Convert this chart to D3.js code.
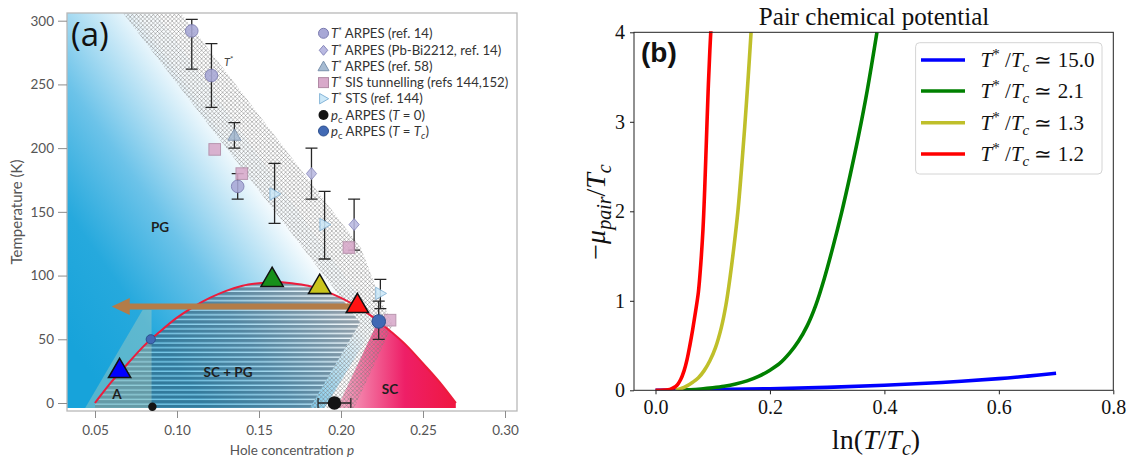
<!DOCTYPE html>
<html><head><meta charset="utf-8">
<script src="https://cdn.jsdelivr.net/npm/d3@7"></script>
<style>body{margin:0;background:#fff}svg{display:block}</style>
</head><body>
<svg id="c" width="1127" height="458"></svg>
<script>
// ================= Panel (a) data =================
const xTicksA = [0.05, 0.10, 0.15, 0.20, 0.25, 0.30];
const yTicksA = [0, 50, 100, 150, 200, 250, 300];
// [p, T, Tlow, Thigh]
const arpesCircles = [[0.109, 292, 262, 301], [0.121, 257, 232, 282], [0.137, 170, 160, 180]];
const pbDiamonds   = [[0.182, 180, 160, 200], [0.208, 140, 120, 160]];
const arpes58Tri   = [[0.135, 210, 200, 220]];
const sisSquares   = [[0.123, 199], [0.1395, 180], [0.2048, 122], [0.2299, 65]];
const stsTri       = [[0.1595, 164, 141, 188], [0.190, 140, 113, 166], [0.224, 86, 74, 97]];
const pcT0         = [[0.085, -3], [0.196, 0]];
const pcT0Err      = [null, [0.186, 0.206]];
const pcTc         = [[0.084, 50], [0.223, 64]];
const pcTcErr      = [null, [50, 80]];
// coloured markers added on the dome
const markP = [0.065, 0.158, 0.187, 0.210];
const markT = [25, 96.5, 91, 76];
const markColors = ["#0000ff", "#17901a", "#c9c41c", "#ff1212"];
// Tc dome
const domeP = [0.05,0.06,0.07,0.08,0.09,0.10,0.11,0.12,0.13,0.14,0.15,0.16,0.17,0.18,0.19,0.20,0.21,0.22,0.23,0.24,0.25,0.26,0.27];
const domeT = [0,16.5,31,45,56.5,67,75.5,82.5,88,92,94,95,94,92,88,82.5,75.5,67,56.5,45,31,16.5,0];
// T* crossover band outline
const bandP = [0.0665, 0.2116, 0.181, 0.208, 0.2317, 0.2245, 0.2122, 0.1018];
const bandT = [307, 63, -4, -4, 62, 80, 121.6, 307];
// SC region left boundary
const scP = [0.1976, 0.2225, 0.24, 0.31, 0.31];
const scT = [-4, 64, 110, 110, -4];
// "A" region
const aP = [0.044, 0.0845, 0.0845, 0.079];
const aT = [-4, -4, 73, 73];
// arrow
const arrowP = [0.2073, 0.0602];
const arrowT = 75.7;
const legendA = [
  ["circle", "T*", " ARPES (ref. 14)"],
  ["diamond", "T*", " ARPES (Pb-Bi2212, ref. 14)"],
  ["triangle", "T*", " ARPES (ref. 58)"],
  ["square", "T*", " SIS tunnelling (refs 144,152)"],
  ["right", "T*", " STS (ref. 144)"],
  ["black", "pc", " ARPES (T = 0)"],
  ["blue", "pc", " ARPES (T = Tc)"]
];

// ================= Panel (b) data =================
const xTicksB = [0.0, 0.2, 0.4, 0.6, 0.8];
const yTicksB = [0, 1, 2, 3, 4];
const blueX  = [0, 0.1, 0.2, 0.3, 0.4, 0.5, 0.6, 0.65, 0.7];
const blueY  = [0, 0.008, 0.018, 0.033, 0.056, 0.088, 0.13, 0.158, 0.19];
const greenX = [0.04, 0.06, 0.08, 0.10, 0.12, 0.14, 0.16, 0.18, 0.20, 0.217, 0.235, 0.25, 0.265, 0.28, 0.295, 0.31, 0.325, 0.34, 0.355, 0.37, 0.387];
const greenY = [0, 0.006, 0.015, 0.028, 0.045, 0.07, 0.105, 0.155, 0.225, 0.3, 0.42, 0.55, 0.72, 0.95, 1.25, 1.6, 1.98, 2.4, 2.85, 3.35, 4];
const yellowX = [0.035, 0.045, 0.055, 0.065, 0.075, 0.085, 0.095, 0.105, 0.115, 0.123, 0.13, 0.137, 0.144, 0.15, 0.156, 0.162, 0.167];
const yellowY = [0, 0.02, 0.05, 0.09, 0.14, 0.22, 0.33, 0.48, 0.7, 0.95, 1.25, 1.6, 2.0, 2.45, 2.95, 3.5, 4];
const redX = [0, 0.015, 0.025, 0.032, 0.038, 0.044, 0.05, 0.055, 0.06, 0.065, 0.07, 0.075, 0.079, 0.083, 0.086, 0.089, 0.092, 0.095, 0.097];
const redY = [0, 0.003, 0.01, 0.03, 0.06, 0.12, 0.22, 0.34, 0.5, 0.68, 0.88, 1.1, 1.4, 1.8, 2.25, 2.8, 3.35, 3.8, 4.05];
const seriesB = [
  {x: blueX, y: blueY, color: "#0000ff", label: "15.0"},
  {x: greenX, y: greenY, color: "#008000", label: "2.1"},
  {x: yellowX, y: yellowY, color: "#bfbf2a", label: "1.3"},
  {x: redX, y: redY, color: "#ff0000", label: "1.2"}
];

// ================= drawing =================
const svg = d3.select("#c");
const defs = svg.append("defs");
const zip = (a, b) => a.map((v, i) => [v, b[i]]);

const xA = d3.scaleLinear().domain([0.05, 0.30]).range([95, 505]);
const yA = d3.scaleLinear().domain([0, 300]).range([403, 20.7]);
const A = {l: 67, r: 517, t: 13, b: 411};
const sans = "Lato, 'Open Sans', sans-serif";

defs.append("clipPath").attr("id", "clipA").append("rect")
  .attr("x", A.l).attr("y", A.t).attr("width", A.r - A.l).attr("height", A.b - A.t);

const g1 = defs.append("linearGradient").attr("id", "pgGrad").attr("gradientUnits", "userSpaceOnUse")
  .attr("x1", 60).attr("y1", 330).attr("x2", 262).attr("y2", 188);
[[0, "#17a3da"], [0.3, "#26a9dd"], [0.6, "#6cc3e9"], [0.85, "#c3e6f6"], [1, "#f8fcfe"]]
  .forEach(s => g1.append("stop").attr("offset", s[0]).attr("stop-color", s[1]));

const g2 = defs.append("linearGradient").attr("id", "scGrad").attr("gradientUnits", "userSpaceOnUse")
  .attr("x1", 335).attr("y1", 0).attr("x2", 462).attr("y2", 0);
[[0, "#f6b6cd"], [0.25, "#f26f9e"], [0.55, "#ee1f67"], [1, "#f0163c"]]
  .forEach(s => g2.append("stop").attr("offset", s[0]).attr("stop-color", s[1]));

const sp = defs.append("pattern").attr("id", "stripes").attr("patternUnits", "userSpaceOnUse")
  .attr("width", 20).attr("height", 4.7).attr("y", 0.6);
sp.append("rect").attr("width", 20).attr("height", 3.4).attr("fill", "#3f5668").attr("fill-opacity", 0.55);
sp.append("rect").attr("y", 3.4).attr("width", 20).attr("height", 1.3).attr("fill", "#ffffff").attr("fill-opacity", 0.4);

const hp = defs.append("pattern").attr("id", "hatch").attr("patternUnits", "userSpaceOnUse")
  .attr("width", 4.2).attr("height", 4.2);
hp.append("path").attr("d", "M0,0L4.2,4.2M-1,3.2L1,5.2M3.2,-1L5.2,1M4.2,0L0,4.2M-1,1L1,-1M3.2,5.2L5.2,3.2")
  .attr("stroke", "#7c7c7c").attr("stroke-width", 0.5).attr("fill", "none");

const domeLine = d3.line().x(d => xA(d[0])).y(d => yA(d[1])).curve(d3.curveMonotoneX);
const domeArea = d3.area().x(d => xA(d[0])).y0(yA(-4)).y1(d => yA(d[1])).curve(d3.curveMonotoneX);
const domePts = zip(domeP, domeT);
defs.append("clipPath").attr("id", "clipDome").append("path").attr("d", domeArea(domePts));

const poly = pts => "M" + pts.map(d => xA(d[0]) + "," + yA(d[1])).join("L") + "Z";

const pa = svg.append("g").attr("clip-path", "url(#clipA)");
// blue PG background
pa.append("path").attr("d", poly([[0.03, -4], [0.03, 310], [0.085, 310], [0.222, 64], [0.19, -4]]))
  .attr("fill", "url(#pgGrad)");
// stripes (SC+PG)
const bandPts = zip(bandP, bandT);
pa.append("g").attr("clip-path", "url(#clipDome)").append("path")
  .attr("d", poly([[0.03, -4], [0.03, 310], bandPts[0], bandPts[1], bandPts[2]]))
  .attr("fill", "url(#stripes)");
// SC region
pa.append("g").attr("clip-path", "url(#clipDome)").append("path")
  .attr("d", poly(zip(scP, scT))).attr("fill", "url(#scGrad)");
// A region
pa.append("path").attr("d", poly(zip(aP, aT))).attr("fill", "#bcd3bb").attr("fill-opacity", 0.38);
// T* band
pa.append("path").attr("d", poly(bandPts)).attr("fill", "url(#hatch)");
// dome line
pa.append("path").attr("d", domeLine(domePts)).attr("fill", "none").attr("stroke", "#ec1c3c").attr("stroke-width", 2);

// frame and axes A
svg.append("rect").attr("x", A.l).attr("y", A.t).attr("width", A.r - A.l).attr("height", A.b - A.t)
  .attr("fill", "none").attr("stroke", "#b8b8b8").attr("stroke-width", 1.3);
const axL = svg.append("g").attr("transform", `translate(${A.l},0)`)
  .call(d3.axisLeft(yA).tickValues(yTicksA).tickSize(9).tickPadding(4).tickFormat(d3.format("d")));
const axB = svg.append("g").attr("transform", `translate(0,${A.b})`)
  .call(d3.axisBottom(xA).tickValues(xTicksA).tickSize(7).tickPadding(7).tickFormat(d3.format(".2f")));
[axL, axB].forEach(ax => {
  ax.select(".domain").remove();
  ax.selectAll("line").attr("stroke", "#8c8c8c");
  ax.selectAll("text").attr("fill", "#555").style("font", "13.5px " + sans);
});
svg.append("text").attr("transform", "translate(22,212) rotate(-90)").attr("text-anchor", "middle")
  .attr("fill", "#555").style("font", "15px " + sans).text("Temperature (K)");
const xl = svg.append("text").attr("x", 292).attr("y", 455).attr("text-anchor", "middle")
  .attr("fill", "#555").style("font", "13.5px " + sans).text("Hole concentration ");
xl.append("tspan").attr("font-style", "italic").text("p");

// markers
function marker(g, type, x, y, s) {
  if (type === "circle") return g.append("circle").attr("cx", x).attr("cy", y).attr("r", s)
    .attr("fill", "#a8a8d6").attr("stroke", "#7b7bb0").attr("stroke-width", 1);
  if (type === "diamond") return g.append("path").attr("d", `M${x},${y - s}L${x + s * 0.85},${y}L${x},${y + s}L${x - s * 0.85},${y}Z`)
    .attr("fill", "#b9b9e1").attr("stroke", "#8888bc").attr("stroke-width", 1);
  if (type === "triangle") return g.append("path").attr("d", `M${x},${y - s}L${x + s},${y + s * 0.75}L${x - s},${y + s * 0.75}Z`)
    .attr("fill", "#a6bbd2").attr("stroke", "#7c93ae").attr("stroke-width", 1);
  if (type === "square") return g.append("rect").attr("x", x - s).attr("y", y - s).attr("width", 2 * s).attr("height", 2 * s)
    .attr("fill", "#d8a9ca").attr("stroke", "#b18aa5").attr("stroke-width", 1);
  if (type === "right") return g.append("path").attr("d", `M${x + s},${y}L${x - s * 0.75},${y - s}L${x - s * 0.75},${y + s}Z`)
    .attr("fill", "#cce8f8").attr("stroke", "#86b5d8").attr("stroke-width", 1);
  if (type === "black") return g.append("circle").attr("cx", x).attr("cy", y).attr("r", s).attr("fill", "#141414");
  if (type === "blue") return g.append("circle").attr("cx", x).attr("cy", y).attr("r", s)
    .attr("fill", "#4169b4").attr("stroke", "#2c4f8e").attr("stroke-width", 1);
}
const dg = svg.append("g");
function vErr(p, lo, hi) {
  const x = xA(p);
  dg.append("path").attr("d", `M${x},${yA(lo)}V${yA(hi)}M${x - 6},${yA(lo)}H${x + 6}M${x - 6},${yA(hi)}H${x + 6}`)
    .attr("stroke", "#262626").attr("stroke-width", 1.3).attr("fill", "none");
}
arpesCircles.forEach(d => vErr(d[0], d[2], d[3]));
pbDiamonds.forEach(d => vErr(d[0], d[2], d[3]));
arpes58Tri.forEach(d => vErr(d[0], d[2], d[3]));
stsTri.forEach(d => vErr(d[0], d[2], d[3]));
pcTc.forEach((d, i) => { if (pcTcErr[i]) vErr(d[0], pcTcErr[i][0], pcTcErr[i][1]); });
pcT0.forEach((d, i) => {
  const e = pcT0Err[i]; if (!e) return;
  const y = yA(d[1]);
  dg.append("path").attr("d", `M${xA(e[0])},${y}H${xA(e[1])}M${xA(e[0])},${y - 5}V${y + 5}M${xA(e[1])},${y - 5}V${y + 5}`)
    .attr("stroke", "#262626").attr("stroke-width", 1.3).attr("fill", "none");
});
const mg = svg.append("g").attr("opacity", 0.88);
arpesCircles.forEach(d => marker(mg, "circle", xA(d[0]), yA(d[1]), 6.3));
pbDiamonds.forEach(d => marker(mg, "diamond", xA(d[0]), yA(d[1]), 6));
arpes58Tri.forEach(d => marker(mg, "triangle", xA(d[0]), yA(d[1]), 6.5));
sisSquares.forEach(d => marker(mg, "square", xA(d[0]), yA(d[1]), 5.8));
stsTri.forEach(d => marker(mg, "right", xA(d[0]), yA(d[1]), 6.2));
pcT0.forEach((d, i) => marker(svg, "black", xA(d[0]), yA(d[1]), i === 0 ? 4.2 : 6.8));
pcTc.forEach((d, i) => marker(svg, "blue", xA(d[0]), yA(d[1]), i === 0 ? 4.6 : 6.8));

// arrow
{
  const x0 = xA(arrowP[0]), x1 = xA(arrowP[1]), y = yA(arrowT);
  svg.append("path").attr("d", `M${x0},${y - 3}H${x1 + 18}V${y - 8.5}L${x1},${y}L${x1 + 18},${y + 8.5}V${y + 3}H${x0}Z`)
    .attr("fill", "#b37c48");
}
// coloured triangles
markP.forEach((p, i) => {
  svg.append("path").attr("transform", `translate(${xA(p)},${yA(markT[i])})`)
    .attr("d", d3.symbol(d3.symbolTriangle, 215)())
    .attr("fill", markColors[i]).attr("stroke", "#111").attr("stroke-width", 1.5).attr("stroke-linejoin", "miter");
});

// region labels
const lab = (t, x, y, size, w) => svg.append("text").attr("x", x).attr("y", y).attr("text-anchor", "middle")
  .attr("fill", "#1e1e1e").style("font", `${w} ${size}px ${sans}`).text(t);
lab("PG", 160, 232, 13.5, "bold");
lab("SC + PG", 228, 377, 13.5, "bold");
lab("A", 117, 399, 13.5, "bold");
lab("SC", 390, 394, 13.5, "bold");
{
  const t = svg.append("text").attr("x", 224).attr("y", 66).attr("fill", "#444").style("font", "italic 11px " + sans).text("T");
  t.append("tspan").attr("dy", -4).attr("font-size", 8).attr("font-style", "normal").text("*");
}
svg.append("text").attr("x", 71).attr("y", 46).attr("fill", "#111").style("font", "33px 'Open Sans', sans-serif").text("(a)");

// legend A
const legY = [33.3, 50.3, 66.6, 82.6, 98.7, 115, 131];
legendA.forEach((d, i) => {
  const y = legY[i];
  const sz = {circle: 5, diamond: 5, triangle: 5.5, square: 5, right: 5.2, black: 5, blue: 5}[d[0]];
  marker(svg, d[0], 323.5, y, sz);
  const t = svg.append("text").attr("x", 331).attr("y", y + 4.6).attr("fill", "#333").style("font", "13.2px " + sans);
  if (d[1] === "T*") {
    t.append("tspan").attr("font-style", "italic").text("T");
    t.append("tspan").attr("dy", -4).attr("font-size", 8.5).text("*");
    t.append("tspan").attr("dy", 4).text(d[2]);
  } else {
    t.append("tspan").attr("font-style", "italic").text("p");
    t.append("tspan").attr("dy", 3).attr("font-size", 9.5).text("c");
    if (i === 5) {
      t.append("tspan").attr("dy", -3).text(" ARPES (");
      t.append("tspan").attr("font-style", "italic").text("T");
      t.append("tspan").text(" = 0)");
    } else {
      t.append("tspan").attr("dy", -3).text(" ARPES (");
      t.append("tspan").attr("font-style", "italic").text("T");
      t.append("tspan").text(" = ");
      t.append("tspan").attr("font-style", "italic").text("T");
      t.append("tspan").attr("dy", 3).attr("font-size", 9.5).attr("font-style", "italic").text("c");
      t.append("tspan").attr("dy", -3).text(")");
    }
  }
});

// ================= Panel (b) =================
const xB = d3.scaleLinear().domain([0, 0.8]).range([655.5, 1113.3]);
const yB = d3.scaleLinear().domain([0, 4]).range([390.3, 32.3]);
const B = {l: 634, r: 1113.3, t: 32.3, b: 390.3};
const serif = "'Liberation Serif', 'Times New Roman', serif";
defs.append("clipPath").attr("id", "clipB").append("rect")
  .attr("x", B.l).attr("y", B.t - 1).attr("width", B.r - B.l).attr("height", B.b - B.t + 1);

const lineB = d3.line().x(d => xB(d[0])).y(d => yB(d[1])).curve(d3.curveCatmullRom.alpha(0.5));
const pb = svg.append("g").attr("clip-path", "url(#clipB)");
seriesB.forEach(s => {
  pb.append("path").attr("d", lineB(zip(s.x, s.y))).attr("fill", "none")
    .attr("stroke", s.color).attr("stroke-width", 3.6).attr("stroke-linecap", "butt");
});
svg.append("rect").attr("x", B.l).attr("y", B.t).attr("width", B.r - B.l).attr("height", B.b - B.t)
  .attr("fill", "none").attr("stroke", "#222").attr("stroke-width", 1);
const bxL = svg.append("g").attr("transform", `translate(${B.l},0)`)
  .call(d3.axisLeft(yB).tickValues(yTicksB).tickSize(4).tickPadding(5).tickFormat(d3.format("d")));
const bxB = svg.append("g").attr("transform", `translate(0,${B.b})`)
  .call(d3.axisBottom(xB).tickValues(xTicksB).tickSize(4).tickPadding(6).tickFormat(d3.format(".1f")));
[bxL, bxB].forEach(ax => {
  ax.select(".domain").remove();
  ax.selectAll("line").attr("stroke", "#222");
  ax.selectAll("text").attr("fill", "#111").style("font", "20px " + serif);
});
svg.append("text").attr("x", 874).attr("y", 25).attr("text-anchor", "middle").attr("fill", "#111")
  .style("font", "25px " + serif).text("Pair chemical potential");
svg.append("text").attr("x", 641).attr("y", 62).attr("fill", "#111")
  .style("font", "bold 28px 'Liberation Sans', Arial, sans-serif").text("(b)");
{
  const t = svg.append("text").attr("x", 876).attr("y", 449).attr("text-anchor", "middle").attr("fill", "#111")
    .style("font", "28px " + serif);
  t.append("tspan").text("ln(");
  t.append("tspan").attr("font-style", "italic").text("T");
  t.append("tspan").text("/");
  t.append("tspan").attr("font-style", "italic").text("T");
  t.append("tspan").attr("font-style", "italic").attr("font-size", 20).attr("dy", 6).text("c");
  t.append("tspan").attr("dy", -6).text(")");
}
{
  const t = svg.append("text").attr("transform", "translate(605,212) rotate(-90)").attr("text-anchor", "middle")
    .attr("fill", "#111").style("font", "28px " + serif);
  t.append("tspan").text("\u2212");
  t.append("tspan").attr("font-style", "italic").text("\u03bc");
  t.append("tspan").attr("font-style", "italic").attr("font-size", 20).attr("dy", 6).text("pair");
  t.append("tspan").attr("dy", -6).text("/");
  t.append("tspan").attr("font-style", "italic").text("T");
  t.append("tspan").attr("font-style", "italic").attr("font-size", 20).attr("dy", 6).text("c");
}
// legend B
svg.append("rect").attr("x", 915.6).attr("y", 42.7).attr("width", 186.4).attr("height", 131.3).attr("rx", 4)
  .attr("fill", "#fff").attr("fill-opacity", 0.85).attr("stroke", "#d4d4d4").attr("stroke-width", 1);
const legYB = [60, 91, 122.7, 154];
seriesB.forEach((s, i) => {
  const y = legYB[i];
  svg.append("line").attr("x1", 921).attr("x2", 965).attr("y1", y).attr("y2", y)
    .attr("stroke", s.color).attr("stroke-width", 3.6);
  const t = svg.append("text").attr("x", 980.6).attr("y", y + 7).attr("fill", "#111").style("font", "21px " + serif);
  t.append("tspan").attr("font-style", "italic").text("T");
  t.append("tspan").attr("dy", -8).attr("font-size", 15).text("*");
  t.append("tspan").attr("dy", 8).text(" /");
  t.append("tspan").attr("font-style", "italic").text("T");
  t.append("tspan").attr("font-style", "italic").attr("dy", 5).attr("font-size", 15).text("c");
  t.append("tspan").attr("dy", -5).text(" \u2243 " + s.label);
});
</script>
</body></html>
